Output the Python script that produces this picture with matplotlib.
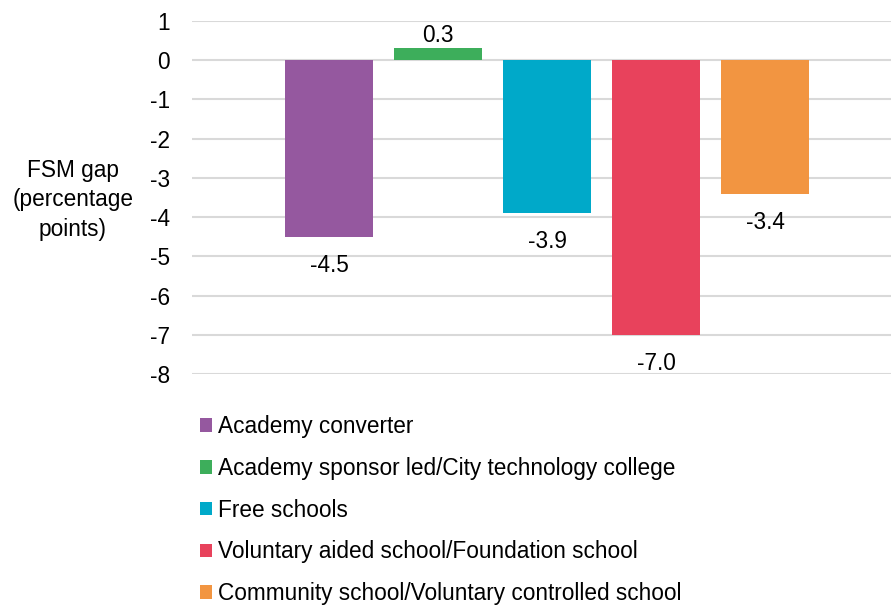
import matplotlib.pyplot as plt
from matplotlib.patches import Patch

plt.rcParams['font.family'] = ['Liberation Sans', 'DejaVu Sans']

categories = ['Academy converter',
              'Academy sponsor led/City technology college',
              'Free schools',
              'Voluntary aided school/Foundation school',
              'Community school/Voluntary controlled school']
values = [-4.5, 0.3, -3.9, -7.0, -3.4]
colors = ['#95589F', '#3DAE5B', '#00A9C9', '#E8425C', '#F29541']
yticks = list(range(-8, 2))

FS = 16.3

fig = plt.figure(figsize=(8.91, 6.07), dpi=100)
ax = fig.add_axes([192 / 891, 1 - 374 / 607, 1 - 192 / 891, (374 - 21) / 607])

pos = list(range(len(values)))
ax.bar(pos, values, width=0.8, color=colors, zorder=3)

for x, v in zip(pos, values):
    off = 9.5 if v > 0 else -20.5
    ax.annotate(f'{v:.1f}', (x, v), xytext=(0, off), textcoords='offset points',
                ha='center', va='center', fontsize=FS, color='#000000')

ax.set_ylim(-8, 1)
ax.set_xlim(-1.257, 5.156)
ax.set_yticks(yticks)
ax.set_yticklabels([str(t) for t in yticks], fontsize=FS)
ax.set_xticks([])
ax.tick_params(axis='y', length=0, pad=16)
ax.grid(axis='y', color='#D9D9D9', linewidth=1.5, zorder=0)
for s in ax.spines.values():
    s.set_visible(False)

fig.text(73 / 891, 1 - 200 / 607, 'FSM gap\n(percentage\npoints)', ha='center', va='center',
         fontsize=FS, linespacing=1.38)

handles = [Patch(facecolor=c, edgecolor='none') for c in colors]
fig.legend(handles, categories, loc='upper left', bbox_to_anchor=(200 / 891, 1 - 415 / 607),
           frameon=False, fontsize=FS, handlelength=0.55, handleheight=0.55,
           handletextpad=0.25, labelspacing=0.83, borderaxespad=0, borderpad=0)

fig.savefig('out.png', dpi=100)
